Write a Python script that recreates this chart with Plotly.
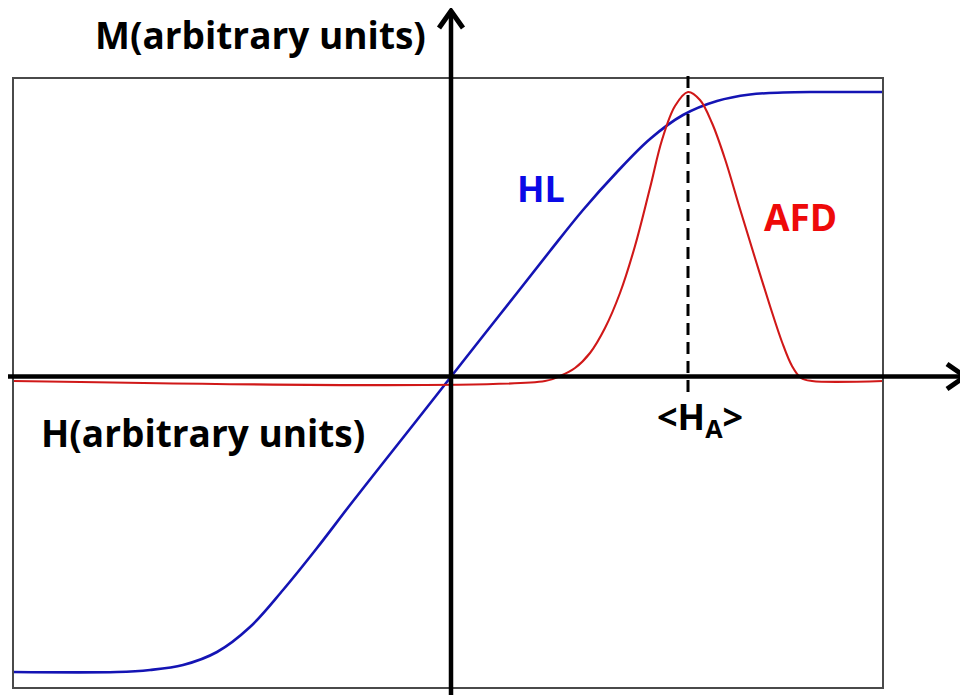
import plotly.graph_objects as go

# HL (hysteresis loop branch), arbitrary units
hl_h = [-4.37, -3.33, -3.00, -2.67, -2.33, -2.00, -1.67, -1.33, -1.00, -0.67, -0.33, 0.0,
        0.33, 0.67, 1.00, 1.33, 1.67, 2.00, 2.33, 2.67, 3.00, 3.33, 3.67, 4.33]
hl_m = [-2.94, -2.94, -2.92, -2.87, -2.74, -2.49, -2.12, -1.70, -1.27, -0.85, -0.42, 0.0,
        0.42, 0.85, 1.27, 1.68, 2.06, 2.39, 2.63, 2.77, 2.835, 2.855, 2.86, 2.86]

# AFD (anisotropy field distribution)
afd_h = [-4.37, 0.95, 1.10, 1.25, 1.40, 1.55, 1.70, 1.85, 2.00, 2.12, 2.25, 2.38,
         2.50, 2.62, 2.75, 2.90, 3.05, 3.20, 3.32, 3.42, 3.51, 3.62, 4.33]
afd_m = [-0.03, -0.03, 0.02, 0.10, 0.25, 0.50, 0.85, 1.32, 1.90, 2.38, 2.72, 2.86,
         2.78, 2.55, 2.19, 1.69, 1.20, 0.72, 0.36, 0.12, 0.0, -0.03, -0.03]

H_A = 2.38
labels = {"M": "M(arbitrary units)", "H": "H(arbitrary units)", "HL": "HL", "AFD": "AFD",
          "HA": "&lt;H<sub>A</sub>&gt;"}

FONT = "Open Sans"
fig = go.Figure()
fig.add_trace(go.Scatter(x=hl_h, y=hl_m, mode="lines",
                         line=dict(color="#1414b4", width=2.6, shape="spline", smoothing=1.0),
                         hoverinfo="skip"))
fig.add_trace(go.Scatter(x=afd_h, y=afd_m, mode="lines",
                         line=dict(color="#d01818", width=2.1, shape="spline", smoothing=1.0),
                         hoverinfo="skip"))

shapes = [
    # frame
    dict(type="rect", xref="x", yref="y", x0=-4.37, x1=4.33, y0=-3.10, y1=3.00,
         line=dict(color="#4a4a4a", width=2)),
    # dashed marker at <H_A>
    dict(type="line", xref="x", yref="y", x0=H_A, x1=H_A, y0=-0.14, y1=3.08,
         line=dict(color="black", width=3, dash="12px,7px")),
    # horizontal axis
    dict(type="line", xref="x", yref="y", x0=-4.42, x1=5.12, y0=0.015, y1=0.015,
         line=dict(color="black", width=4.5)),
    dict(type="path", xref="x", yref="y", path="M 4.97,0.14 L 5.15,0.015 L 4.97,-0.11",
         line=dict(color="black", width=5)),
    # vertical axis
    dict(type="line", xref="x", yref="y", x0=0.01, x1=0.01, y0=-3.2, y1=3.64,
         line=dict(color="black", width=4.5)),
    dict(type="path", xref="x", yref="y", path="M -0.11,3.50 L 0.01,3.67 L 0.13,3.50",
         line=dict(color="black", width=5)),
]

ann = [
    dict(x=-1.90, y=3.44, text=labels["M"], font=dict(size=37, color="black", family=FONT, weight="bold")),
    dict(x=-2.47, y=-0.54, text=labels["H"], font=dict(size=37, color="black", family=FONT, weight="bold")),
    dict(x=0.91, y=1.90, text=labels["HL"], font=dict(size=36, color="#0a0ae6", family=FONT, weight="bold")),
    dict(x=3.50, y=1.62, text=labels["AFD"], font=dict(size=37, color="#ee0a0a", family=FONT, weight="bold")),
    dict(x=2.50, y=-0.40, text=labels["HA"], font=dict(size=36, color="black", family=FONT, weight="bold")),
]
for a in ann:
    a.update(xref="x", yref="y", showarrow=False, xanchor="center", yanchor="middle")

# page has an 8px body margin: figure spans page px 8..968 x 8..695
fig.update_layout(
    width=960, height=687, margin=dict(l=0, r=0, t=0, b=0),
    paper_bgcolor="white", plot_bgcolor="white", showlegend=False,
    xaxis=dict(range=[-4.42, 5.18], visible=False, fixedrange=True),
    yaxis=dict(range=[-3.17, 3.70], visible=False, fixedrange=True),
    shapes=shapes, annotations=ann,
)
fig.write_html("out.html")
